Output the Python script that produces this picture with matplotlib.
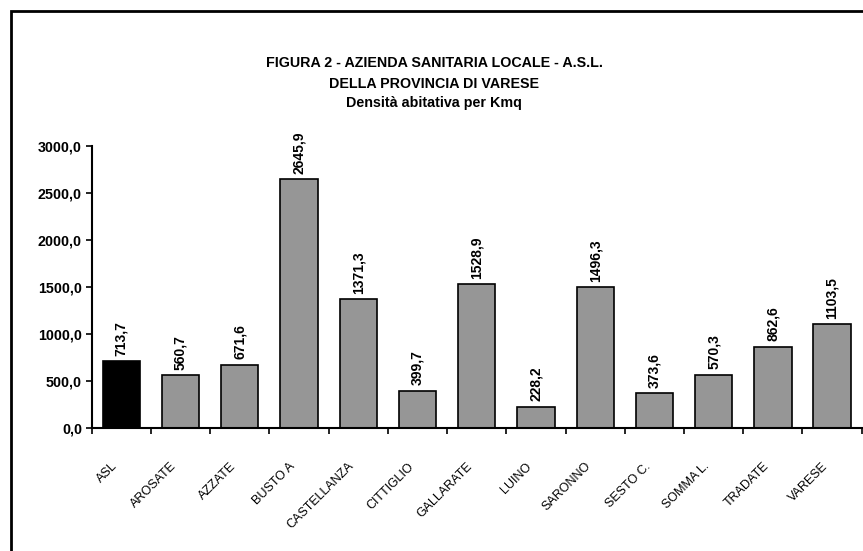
import matplotlib.pyplot as plt
import matplotlib.patches as patches
from matplotlib.ticker import FuncFormatter
from matplotlib.transforms import ScaledTranslation

plt.rcParams['font.family'] = ['Liberation Sans', 'DejaVu Sans']

comuni = ['ASL', 'AROSATE', 'AZZATE', 'BUSTO A', 'CASTELLANZA', 'CITTIGLIO',
          'GALLARATE', 'LUINO', 'SARONNO', 'SESTO C.', 'SOMMA L.', 'TRADATE', 'VARESE']
densita = [713.7, 560.7, 671.6, 2645.9, 1371.3, 399.7, 1528.9,
           228.2, 1496.3, 373.6, 570.3, 862.6, 1103.5]
titolo = ['FIGURA 2 - AZIENDA SANITARIA LOCALE - A.S.L.',
          'DELLA PROVINCIA DI VARESE',
          'Densità abitativa per Kmq']

W, H = 863, 551
fig = plt.figure(figsize=(W / 100, H / 100), dpi=100)

# cornice esterna (tagliata a destra e in basso)
bordo = patches.Rectangle((11 / W, -0.2), 1.2, 1.2 - 11 / H,
                          transform=fig.transFigure, fill=False,
                          edgecolor='black', linewidth=2, clip_on=False)
fig.add_artist(bordo)

for testo, ypx in zip(titolo, [63, 84, 103]):
    fig.text(434 / W, 1 - ypx / H, testo, ha='center', va='center',
             fontsize=10.3, fontweight='bold')

ax = fig.add_axes([91.7 / W, 1 - 428.3 / H, 770 / W, (428.3 - 145.7) / H])

x = list(range(len(comuni)))
colori = ['black'] + ['#969696'] * (len(comuni) - 1)
ax.bar(x, densita, width=0.63, color=colori, edgecolor='black', linewidth=1.2)

for xi, v in zip(x, densita):
    ax.annotate(f'{v:.1f}'.replace('.', ','), (xi, v), xytext=(0, 4),
                textcoords='offset points', ha='center', va='bottom',
                rotation=90, fontsize=10, fontweight='bold')

ax.set_xlim(-0.5, len(comuni) - 0.5)
ax.set_ylim(0, 3000)
ax.set_yticks(range(0, 3001, 500))
ax.yaxis.set_major_formatter(FuncFormatter(lambda v, p: f'{v:.1f}'.replace('.', ',')))
for t in ax.get_yticklabels():
    t.set_fontweight('bold')
ax.tick_params(axis='y', labelsize=10.3, length=4, width=1.2, direction='out', pad=3)

# tacche sui confini delle categorie, etichette a 45 gradi
ax.set_xticks([i - 0.5 for i in range(len(comuni) + 1)])
ax.set_xticklabels([])
ax.tick_params(axis='x', which='major', length=4, width=1.2, direction='out')
sposta = ScaledTranslation(-10 / 100, -32 / 100, fig.dpi_scale_trans)
for xi, nome in zip(x, comuni):
    ax.text(xi, 0, nome, transform=ax.get_xaxis_transform() + sposta,
            rotation=45, rotation_mode='anchor', ha='right', va='top',
            fontsize=9)

for lato in ['top', 'right']:
    ax.spines[lato].set_visible(False)
for lato in ['left', 'bottom']:
    ax.spines[lato].set_linewidth(1.5)

fig.savefig('out.png', dpi=100)
